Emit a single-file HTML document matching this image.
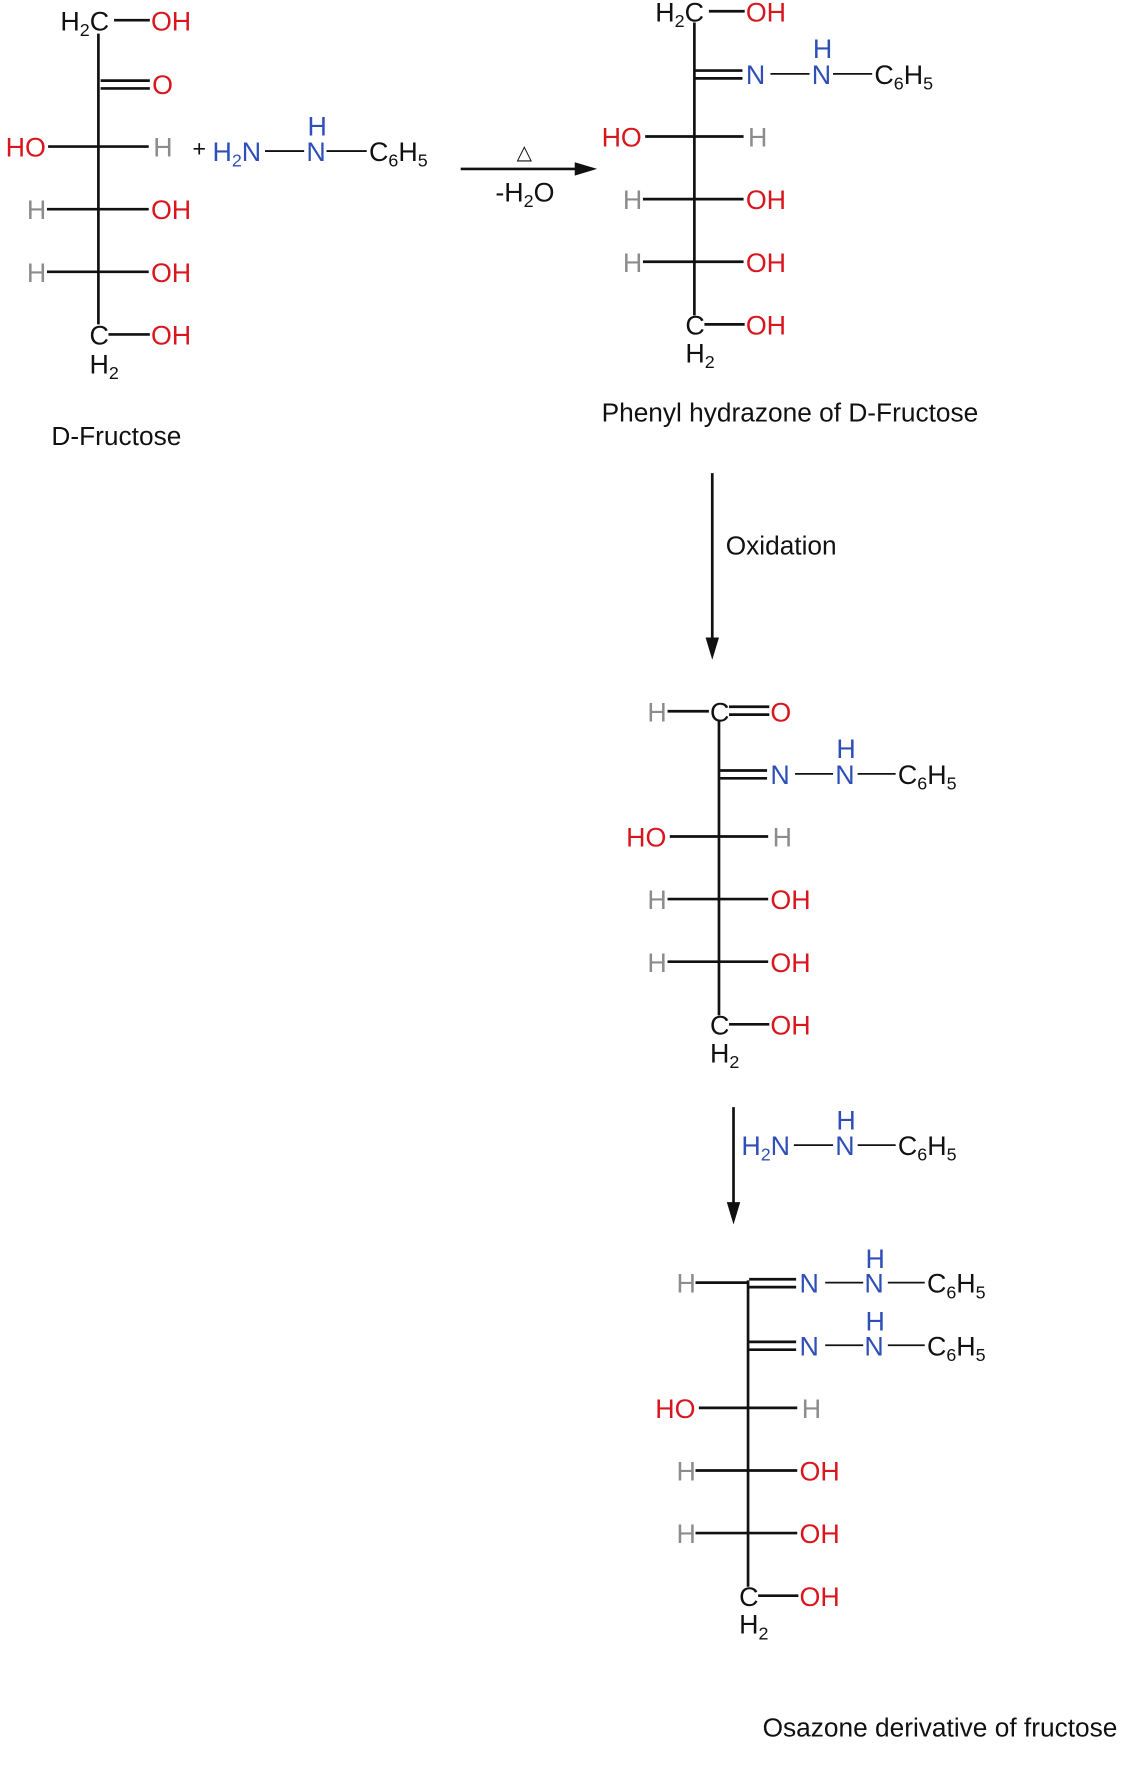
<!DOCTYPE html>
<html><head><meta charset="utf-8"><style>
html,body{margin:0;padding:0;background:#fff;}
svg{display:block}
text{font-family:"Liberation Sans",sans-serif;font-size:24px;fill:#111}
.r{fill:#d9161e}.b{fill:#2f4fb8}.g{fill:#8c8c8c}
.s{font-size:16px}
.L{font-size:23.5px}
line{stroke:#111;stroke-width:2.4}
.t{stroke-width:1.6}
</style></head><body>
<svg width="1145" height="1768" viewBox="0 0 1024 1581">
<!-- Molecule 1 -->
<line x1="88" y1="30" x2="88" y2="290"/>
<text x="54" y="27">H<tspan class="s" dy="5">2</tspan><tspan dy="-5">C</tspan></text>
<line x1="102" y1="18" x2="134" y2="18"/>
<text x="135" y="27" class="r">OH</text>
<line x1="90" y1="72" x2="134" y2="72"/><line x1="90" y1="79" x2="134" y2="79"/>
<text x="136" y="84" class="r">O</text>
<text x="5" y="140" class="r">HO</text>
<line x1="43" y1="131" x2="133" y2="131"/>
<text x="137" y="140" class="g">H</text>
<text x="172" y="140" style="font-size:21px">+</text>
<text x="190" y="144" class="b">H<tspan class="s" dy="5">2</tspan><tspan dy="-5">N</tspan></text>
<line x1="237" y1="135" x2="272" y2="135" class="t"/>
<text x="275" y="121" class="b">H</text>
<text x="274" y="144" class="b">N</text>
<line x1="292" y1="135" x2="328" y2="135" class="t"/>
<text x="330" y="144">C<tspan class="s" dy="5">6</tspan><tspan dy="-5">H</tspan><tspan class="s" dy="5">5</tspan></text>
<text x="24" y="196" class="g">H</text><line x1="42" y1="187" x2="133" y2="187"/><text x="135" y="196" class="r">OH</text>
<text x="24" y="252" class="g">H</text><line x1="42" y1="243" x2="133" y2="243"/><text x="135" y="252" class="r">OH</text>
<text x="80" y="308">C</text><line x1="97" y1="299" x2="134" y2="299"/><text x="135" y="308" class="r">OH</text>
<text x="80" y="334">H<tspan class="s" dy="5">2</tspan></text>
<text x="46" y="398" class="L">D-Fructose</text>
<!-- arrow 1 -->
<line x1="412" y1="151" x2="520" y2="151"/>
<polygon points="534,151 514,145 514,157" fill="#111"/>
<text x="462" y="142" style="font-size:18px">△</text>
<text x="443" y="180">-H<tspan class="s" dy="5">2</tspan><tspan dy="-5">O</tspan></text>
<!-- Molecule 2 -->
<line x1="621" y1="20" x2="621" y2="282"/>
<text x="586" y="19">H<tspan class="s" dy="5">2</tspan><tspan dy="-5">C</tspan></text>
<line x1="634" y1="10" x2="666" y2="10"/>
<text x="667" y="19" class="r">OH</text>
<line x1="622" y1="63" x2="664" y2="63"/><line x1="622" y1="70" x2="664" y2="70"/>
<text x="667" y="75" class="b">N</text>
<line x1="689" y1="66" x2="724" y2="66" class="t"/>
<text x="727" y="52" class="b">H</text>
<text x="726" y="75" class="b">N</text>
<line x1="745" y1="66" x2="780" y2="66" class="t"/>
<text x="782" y="75">C<tspan class="s" dy="5">6</tspan><tspan dy="-5">H</tspan><tspan class="s" dy="5">5</tspan></text>
<text x="538" y="131" class="r">HO</text><line x1="577" y1="122" x2="665" y2="122"/><text x="669" y="131" class="g">H</text>
<text x="557" y="187" class="g">H</text><line x1="575" y1="178" x2="665" y2="178"/><text x="667" y="187" class="r">OH</text>
<text x="557" y="243" class="g">H</text><line x1="575" y1="234" x2="665" y2="234"/><text x="667" y="243" class="r">OH</text>
<text x="613" y="299">C</text><line x1="630" y1="290" x2="666" y2="290"/><text x="667" y="299" class="r">OH</text>
<text x="613" y="324">H<tspan class="s" dy="5">2</tspan></text>
<text x="538" y="377" class="L">Phenyl hydrazone of D-Fructose</text>
<!-- arrow 2 -->
<line x1="637" y1="423" x2="637" y2="575"/>
<polygon points="637,590 631,570 643,570" fill="#111"/>
<text x="649" y="496" class="L">Oxidation</text>
<!-- Molecule 3 -->
<line x1="643" y1="645" x2="643" y2="908"/>
<text x="579" y="645" class="g">H</text><line x1="597" y1="636" x2="634" y2="636"/>
<text x="635" y="645">C</text>
<line x1="652" y1="632" x2="688" y2="632"/><line x1="652" y1="639" x2="688" y2="639"/>
<text x="689" y="645" class="r">O</text>
<line x1="644" y1="689" x2="686" y2="689"/><line x1="644" y1="696" x2="686" y2="696"/>
<text x="689" y="701" class="b">N</text>
<line x1="711" y1="692" x2="745" y2="692" class="t"/>
<text x="748" y="678" class="b">H</text>
<text x="747" y="701" class="b">N</text>
<line x1="767" y1="692" x2="801" y2="692" class="t"/>
<text x="803" y="701">C<tspan class="s" dy="5">6</tspan><tspan dy="-5">H</tspan><tspan class="s" dy="5">5</tspan></text>
<text x="560" y="757" class="r">HO</text><line x1="599" y1="748" x2="687" y2="748"/><text x="691" y="757" class="g">H</text>
<text x="579" y="813" class="g">H</text><line x1="597" y1="804" x2="687" y2="804"/><text x="689" y="813" class="r">OH</text>
<text x="579" y="869" class="g">H</text><line x1="597" y1="860" x2="687" y2="860"/><text x="689" y="869" class="r">OH</text>
<text x="635" y="925">C</text><line x1="652" y1="916" x2="688" y2="916"/><text x="689" y="925" class="r">OH</text>
<text x="635" y="950">H<tspan class="s" dy="5">2</tspan></text>
<!-- arrow 3 -->
<line x1="656" y1="990" x2="656" y2="1080"/>
<polygon points="656,1095 650,1075 662,1075" fill="#111"/>
<text x="663" y="1033" class="b">H<tspan class="s" dy="5">2</tspan><tspan dy="-5">N</tspan></text>
<line x1="710" y1="1024" x2="745" y2="1024" class="t"/>
<text x="748" y="1010" class="b">H</text>
<text x="747" y="1033" class="b">N</text>
<line x1="767" y1="1024" x2="801" y2="1024" class="t"/>
<text x="803" y="1033">C<tspan class="s" dy="5">6</tspan><tspan dy="-5">H</tspan><tspan class="s" dy="5">5</tspan></text>
<!-- Molecule 4 -->
<line x1="669" y1="1145" x2="669" y2="1419"/>
<text x="605" y="1156" class="g">H</text><line x1="622" y1="1147" x2="669" y2="1147"/>
<line x1="670" y1="1144" x2="712" y2="1144"/><line x1="670" y1="1151" x2="712" y2="1151"/>
<text x="715" y="1156" class="b">N</text>
<line x1="738" y1="1147" x2="772" y2="1147" class="t"/>
<text x="774" y="1134" class="b">H</text>
<text x="773" y="1156" class="b">N</text>
<line x1="794" y1="1147" x2="827" y2="1147" class="t"/>
<text x="829" y="1156">C<tspan class="s" dy="5">6</tspan><tspan dy="-5">H</tspan><tspan class="s" dy="5">5</tspan></text>
<line x1="670" y1="1200" x2="712" y2="1200"/><line x1="670" y1="1207" x2="712" y2="1207"/>
<text x="715" y="1212" class="b">N</text>
<line x1="738" y1="1203" x2="772" y2="1203" class="t"/>
<text x="774" y="1190" class="b">H</text>
<text x="773" y="1212" class="b">N</text>
<line x1="794" y1="1203" x2="827" y2="1203" class="t"/>
<text x="829" y="1212">C<tspan class="s" dy="5">6</tspan><tspan dy="-5">H</tspan><tspan class="s" dy="5">5</tspan></text>
<text x="586" y="1268" class="r">HO</text><line x1="625" y1="1259" x2="713" y2="1259"/><text x="717" y="1268" class="g">H</text>
<text x="605" y="1324" class="g">H</text><line x1="622" y1="1315" x2="713" y2="1315"/><text x="715" y="1324" class="r">OH</text>
<text x="605" y="1380" class="g">H</text><line x1="622" y1="1371" x2="713" y2="1371"/><text x="715" y="1380" class="r">OH</text>
<text x="661" y="1436">C</text><line x1="678" y1="1427" x2="714" y2="1427"/><text x="715" y="1436" class="r">OH</text>
<text x="661" y="1461">H<tspan class="s" dy="5">2</tspan></text>
<text x="682" y="1553" class="L">Osazone derivative of fructose</text>
</svg>
</body></html>
